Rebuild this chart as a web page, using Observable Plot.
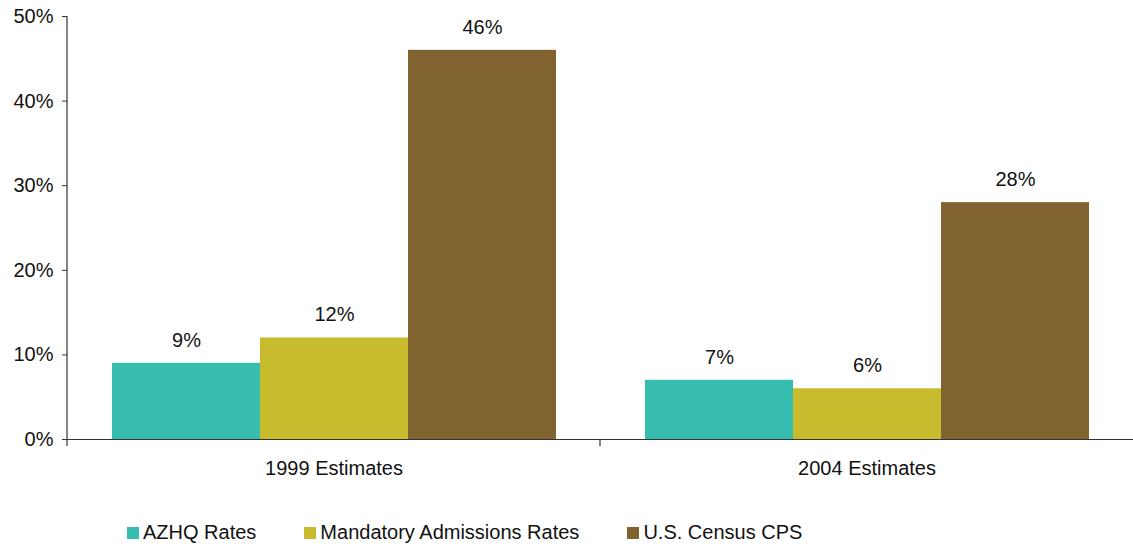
<!DOCTYPE html>
<html>
<head>
<meta charset="utf-8">
<script src="https://cdn.jsdelivr.net/npm/d3@7"></script>
<script src="https://cdn.jsdelivr.net/npm/@observablehq/plot@0.6"></script>
<style>
  body { margin: 0; background: #fff; font-family: "Liberation Sans", Arial, sans-serif; }
  #legend { display: flex; align-items: center; padding-left: 127px; margin-top: 31px; font-size: 20px; color: #111; }
  .item { display: flex; align-items: center; margin-right: 48px; }
  .sw { width: 12px; height: 12px; margin-right: 4px; }
</style>
</head>
<body>
<div id="chart"></div>
<div id="legend"></div>
<script>
const groups = ["1999 Estimates", "2004 Estimates"];
const series = ["AZHQ Rates", "Mandatory Admissions Rates", "U.S. Census CPS"];
const colors = ["#37bcb0", "#c8bc2e", "#81632f"];
const values1999 = [9, 12, 46];
const values2004 = [7, 6, 28];
const yTicks = [0, 10, 20, 30, 40, 50];

const data = [];
series.forEach((s, i) => {
  data.push({group: groups[0], series: s, value: values1999[i]});
  data.push({group: groups[1], series: s, value: values2004[i]});
});

const chart = Plot.plot({
  width: 1133,
  height: 490,
  marginLeft: 66,
  marginRight: 0,
  marginTop: 16,
  marginBottom: 51,
  style: {fontFamily: "'Liberation Sans', Arial, sans-serif", fontSize: "20px", color: "#111"},
  fx: {domain: groups, padding: 0, label: null},
  x: {domain: series, paddingInner: 0, paddingOuter: 0.3, axis: null},
  y: {domain: [0, 50], label: null},
  color: {domain: series, range: colors},
  marks: [
    Plot.barY(data, {fx: "group", x: "series", y: "value", fill: "series"}),
    Plot.text(data, {fx: "group", x: "series", y: "value", text: d => d.value + "%", dy: -23, fontSize: 20, fill: "#111"}),
    Plot.ruleY([0], {stroke: "#333", strokeWidth: 1.2}),
    Plot.axisY({ticks: yTicks, tickFormat: d => d + "%", tickSize: 5, tickPadding: 9, fontSize: 20, label: null, stroke: "#333"}),
    Plot.axisFx({anchor: "bottom", tickSize: 0, tickPadding: 21, fontSize: 20, label: null})
  ]
});

document.getElementById("chart").appendChild(chart);

// axis line and category separators, positioned from Plot's own scales
const svg = d3.select(chart);
const fx = chart.scale("fx");
const ys = chart.scale("y");
const y0 = ys.apply(0), yTop = ys.apply(50);
const left = fx.apply(groups[0]);
svg.append("line").attr("x1", left).attr("x2", left).attr("y1", yTop).attr("y2", y0 + 7)
  .attr("stroke", "#333").attr("stroke-width", 1.2);
groups.slice(1).forEach(g => {
  const xb = fx.apply(g);
  svg.append("line").attr("x1", xb).attr("x2", xb).attr("y1", y0).attr("y2", y0 + 7)
    .attr("stroke", "#333").attr("stroke-width", 1.2);
});

const legend = document.getElementById("legend");
series.forEach((s, i) => {
  const item = document.createElement("div");
  item.className = "item";
  const sw = document.createElement("div");
  sw.className = "sw";
  sw.style.background = colors[i];
  const label = document.createElement("span");
  label.textContent = s;
  item.appendChild(sw);
  item.appendChild(label);
  legend.appendChild(item);
});
</script>
</body>
</html>
